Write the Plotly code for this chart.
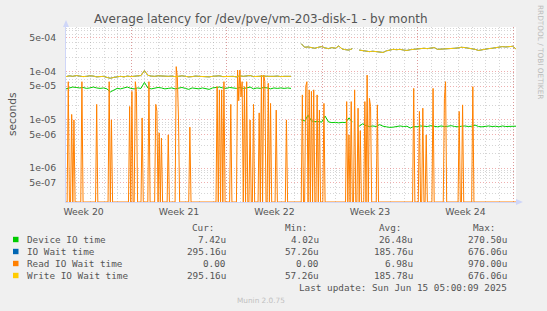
import numpy as np
import pandas as pd
import plotly.graph_objects as go

# ---------------- data ----------------
START = "2025-05-13 05:00"
END = "2025-06-15 05:00"

# 6-hour samples (133 points), None = no data
device_io_time = [
    4.4e-5, 4.6e-5, 4.8e-5, 4.7e-5, 4.6e-5, 4.7e-5, 4.5e-5, 4.6e-5, 4.8e-5, 4.6e-5,
    4.5e-5, 4.6e-5, 4.4e-5, 3.8e-5, 4.2e-5, 4.5e-5, 4.4e-5, 4.6e-5, 4.8e-5, 4.5e-5,
    4.4e-5, 4.6e-5, 4.5e-5, 6.0e-5, 4.6e-5, 4.4e-5, 4.5e-5, 4.7e-5, 4.6e-5, 4.4e-5,
    4.5e-5, 4.6e-5, 4.4e-5, 4.5e-5, 4.7e-5, 4.5e-5, 4.3e-5, 4.6e-5, 4.5e-5, 4.4e-5,
    4.6e-5, 4.5e-5, 4.3e-5, 4.6e-5, 4.7e-5, 4.8e-5, 4.6e-5, 4.5e-5, 4.7e-5, 4.6e-5,
    4.5e-5, 4.7e-5, 4.5e-5, 4.6e-5, 4.8e-5, 4.4e-5, 4.6e-5, 4.5e-5, 4.7e-5, 4.6e-5,
    4.4e-5, 4.6e-5, 4.5e-5, 4.6e-5, 4.5e-5, 4.6e-5, 4.5e-5, None, None,
    1.0e-5, 9.5e-6, 1.25e-5, 9.6e-6, 9.2e-6, 9.3e-6, 9.0e-6, 1.2e-5, 9.1e-6, 8.8e-6,
    8.9e-6, 8.7e-6, 8.9e-6, 8.8e-6, 1.1e-5, 9.0e-6, None,
    7.4e-6, 8.3e-6, 7.6e-6, 7.3e-6, 7.5e-6, 7.3e-6, 8.0e-6, 7.4e-6, 7.2e-6, 7.0e-6,
    7.1e-6, 7.3e-6, 7.5e-6, 7.3e-6, 7.4e-6, 6.8e-6, 7.3e-6, 7.2e-6, 7.5e-6, 7.4e-6,
    7.3e-6, 7.6e-6, 7.4e-6, 7.2e-6, 7.5e-6, 7.3e-6, 7.4e-6, 7.6e-6, 7.3e-6, 7.2e-6,
    7.4e-6, 7.5e-6, 7.3e-6, 7.4e-6, 7.8e-6, 7.3e-6, 7.2e-6, 7.4e-6, 7.5e-6, 7.3e-6,
    7.4e-6, 7.2e-6, 7.5e-6, 7.3e-6, 7.4e-6, 7.3e-6, 7.42e-6,
]

write_io_wait = [
    7.9e-5, 8.2e-5, 8.0e-5, 8.3e-5, 8.1e-5, 7.9e-5, 8.0e-5, 8.2e-5, 8.1e-5, 7.8e-5,
    7.9e-5, 8.0e-5, 7.6e-5, 7.3e-5, 7.6e-5, 7.9e-5, 8.0e-5, 7.8e-5, 8.1e-5, 7.9e-5,
    8.0e-5, 8.2e-5, 8.3e-5, 1.05e-4, 8.4e-5, 8.1e-5, 8.0e-5, 8.2e-5, 8.1e-5, 7.9e-5,
    8.0e-5, 8.1e-5, 7.9e-5, 8.0e-5, 8.2e-5, 8.0e-5, 7.8e-5, 7.9e-5, 8.1e-5, 8.0e-5,
    7.9e-5, 8.0e-5, 7.8e-5, 8.0e-5, 8.1e-5, 8.2e-5, 7.9e-5, 8.0e-5, 8.1e-5, 8.0e-5,
    7.8e-5, 8.2e-5, 8.0e-5, 8.1e-5, 8.3e-5, 7.9e-5, 8.0e-5, 7.9e-5, 8.1e-5, 8.0e-5,
    7.9e-5, 8.0e-5, 8.1e-5, 7.9e-5, 8.0e-5, 8.1e-5, 8.0e-5, None, None,
    3.8e-4, 3.2e-4, 3.25e-4, 3.15e-4, 3.05e-4, 3.2e-4, 3.3e-4, 3.1e-4, 3.0e-4, 3.15e-4,
    3.05e-4, 3.4e-4, 2.95e-4, 2.85e-4, 2.8e-4, 3.0e-4, None,
    2.8e-4, 2.75e-4, 2.7e-4, 2.6e-4, 2.65e-4, 2.6e-4, 2.55e-4, 2.5e-4, 2.7e-4, 2.8e-4,
    2.9e-4, 2.85e-4, 2.9e-4, 2.8e-4, 2.75e-4, 2.85e-4, 2.9e-4, 2.95e-4, 3.0e-4, 3.05e-4,
    3.0e-4, 3.1e-4, 3.15e-4, 2.9e-4, 2.95e-4, 3.0e-4, 3.05e-4, 3.0e-4, 3.05e-4, 3.1e-4,
    3.2e-4, 3.15e-4, 3.1e-4, 3.05e-4, 2.9e-4, 2.75e-4, 2.85e-4, 2.95e-4, 3.0e-4, 3.05e-4,
    3.15e-4, 3.2e-4, 3.3e-4, 3.25e-4, 3.3e-4, 3.35e-4, 2.95e-4,
]

# IO wait is visually identical to the write wait (drawn underneath it)
io_wait_time = list(write_io_wait)

# Read IO wait (2-hour samples): zero everywhere except these spikes
read_spike_times = [
    "2025-05-13 09:00", "2025-05-13 15:00", "2025-05-13 19:00", "2025-05-14 09:00",
    "2025-05-15 11:00", "2025-05-16 09:00", "2025-05-16 13:00", "2025-05-17 21:00",
    "2025-05-18 01:00", "2025-05-18 07:00", "2025-05-18 09:00", "2025-05-18 19:00",
    "2025-05-19 07:00", "2025-05-19 19:00", "2025-05-19 21:00", "2025-05-20 01:00",
    "2025-05-20 05:00", "2025-05-20 17:00", "2025-05-21 07:00", "2025-05-21 09:00",
    "2025-05-21 11:00", "2025-05-22 07:00", "2025-05-24 07:00", "2025-05-24 11:00",
    "2025-05-24 15:00", "2025-05-24 19:00", "2025-05-25 07:00", "2025-05-25 19:00",
    "2025-05-25 21:00", "2025-05-25 23:00", "2025-05-26 01:00", "2025-05-26 03:00",
    "2025-05-26 07:00", "2025-05-26 11:00", "2025-05-26 17:00", "2025-05-26 23:00",
    "2025-05-27 09:00", "2025-05-27 13:00", "2025-05-27 17:00", "2025-05-27 19:00",
    "2025-05-28 01:00", "2025-05-28 05:00", "2025-05-28 15:00", "2025-05-29 09:00",
    "2025-05-30 13:00", "2025-05-30 19:00", "2025-05-30 21:00", "2025-05-31 01:00",
    "2025-05-31 05:00", "2025-05-31 09:00", "2025-05-31 15:00", "2025-05-31 19:00",
    "2025-06-01 03:00", "2025-06-02 19:00", "2025-06-02 23:00", "2025-06-03 03:00",
    "2025-06-03 09:00", "2025-06-03 15:00", "2025-06-03 19:00", "2025-06-04 03:00",
    "2025-06-04 07:00", "2025-06-04 11:00", "2025-06-04 13:00", "2025-06-05 01:00",
    "2025-06-07 17:00", "2025-06-08 03:00", "2025-06-08 09:00", "2025-06-08 15:00",
    "2025-06-09 03:00", "2025-06-09 23:00", "2025-06-10 01:00", "2025-06-11 01:00",
    "2025-06-11 07:00", "2025-06-12 01:00",
]
read_spike_values = [
    6.2e-5, 1.3e-5, 1.0e-5, 6.2e-5,
    2.1e-5, 6.2e-5, 1.0e-5, 1.9e-5,
    3.9e-5, 6.2e-5, 3.9e-5, 1.1e-5,
    6.2e-5, 2.1e-5, 1.5e-5, 5.4e-6,
    4.2e-6, 4.9e-6, 1.27e-4, 7.4e-5,
    1.0e-5, 7.1e-6, 4.9e-5, 4.2e-5,
    4.2e-5, 6.2e-5, 2.1e-5, 1.08e-4,
    2.5e-5, 1.08e-4, 3.0e-5, 6.2e-5,
    4.9e-5, 6.2e-5, 1.0e-5, 2.1e-5,
    1.4e-5, 8.5e-5, 8.5e-5, 6.2e-5,
    5.75e-5, 2.2e-5, 1.6e-5, 1.0e-5,
    3.3e-5, 5.0e-5, 6.2e-5, 4.2e-5,
    3.9e-5, 4.2e-5, 3.3e-5, 1.6e-5,
    2.2e-5, 2.4e-5, 4.9e-6, 2.4e-5,
    4.2e-5, 1.75e-5, 6.0e-6, 2.4e-5,
    8.5e-5, 2.8e-5, 1.9e-5, 2.05e-5,
    4.5e-5, 1.5e-5, 1.75e-5, 4.9e-6,
    4.5e-5, 2.8e-5, 6.2e-5, 1.5e-5,
    2.05e-5, 4.9e-5,
]

week_label_times = ["2025-05-14 12:00", "2025-05-21 12:00", "2025-05-28 12:00",
                    "2025-06-04 12:00", "2025-06-11 12:00"]
week_labels = ["Week 20", "Week 21", "Week 22", "Week 23", "Week 24"]
week_boundaries = ["2025-05-18", "2025-05-25", "2025-06-01", "2025-06-08", "2025-06-15"]

y_tick_values = [5e-7, 1e-6, 5e-6, 1e-5, 5e-5, 1e-4, 5e-4]
y_tick_labels = ["5e-07", "1e-06", "5e-06", "1e-05", "5e-05", "1e-04", "5e-04"]

series_names = ["Device IO time", "IO Wait time", "Read IO Wait time", "Write IO Wait time"]
series_colors = ["#00CC00", "#0066B3", "#FF8000", "#FFCC00"]
cur_values = ["7.42u", "295.16u", "0.00", "295.16u"]
min_values = ["4.02u", "57.26u", "0.00", "57.26u"]
avg_values = ["26.48u", "185.76u", "6.98u", "185.78u"]
max_values = ["270.50u", "676.06u", "970.00u", "676.06u"]

TITLE = "Average latency for /dev/pve/vm-203-disk-1 - by month"
LAST_UPDATE = "Last update: Sun Jun 15 05:00:09 2025"

# ---------------- geometry ----------------
W, H = 547, 311
L, R, T, B = 66, 31, 27, 109
PW, PH = W - L - R, H - T - B


def px(x):
    return (x - L) / PW


def py(y):
    return 1 - (y - T) / PH


Y_LOG_RANGE = [-6.70, -3.075]
floor_val = 10 ** Y_LOG_RANGE[0]

t6 = pd.date_range(START, END, freq="6h")
t2 = pd.date_range(START, END, freq="2h")
read = pd.Series(0.0, index=t2)
read.loc[pd.to_datetime(read_spike_times)] = read_spike_values
read_plot = read.where(read > 0, floor_val)

FONT = "DejaVu Sans"
MONO = "DejaVu Sans Mono"
TXT = "#555555"

fig = go.Figure()
series_x = [t6, t6, t2, t6]
series_y = [device_io_time, io_wait_time, read_plot.values, write_io_wait]
for name, col, xs, ys in zip(series_names, series_colors, series_x, series_y):
    fig.add_trace(go.Scatter(x=xs, y=ys, mode="lines", name=name,
                             line=dict(color=col, width=1), connectgaps=False,
                             hoverinfo="skip"))
# carrier for the week-label axis
fig.add_trace(go.Scatter(x=[t6[0]], y=[1e-5], xaxis="x2", mode="markers",
                         marker=dict(opacity=0), hoverinfo="skip", showlegend=False))

minor_y = [m * 10.0 ** e for e in range(-7, -2) for m in (2, 3, 4, 6, 7, 8, 9)]
day_lines = pd.date_range("2025-05-14", "2025-06-15", freq="D")

GRID_MAJOR = "rgba(225,110,110,0.55)"
GRID_MINOR = "rgba(150,150,150,0.4)"
DASH = "1px,2px"

fig.update_layout(
    width=W, height=H,
    margin=dict(l=L, r=R, t=T, b=B, pad=0),
    paper_bgcolor="#F0F0F0", plot_bgcolor="#FFFFFF",
    showlegend=False,
    font=dict(family=FONT, color=TXT),
    xaxis=dict(type="date", range=[t6[0], t6[-1]], tickmode="array",
               tickvals=week_boundaries, showticklabels=False, ticks="",
               showgrid=True, gridcolor=GRID_MAJOR, griddash=DASH, gridwidth=1,
               minor=dict(tickmode="array", tickvals=list(day_lines), showgrid=True,
                          gridcolor=GRID_MINOR, griddash=DASH, ticks=""),
               showline=True, linecolor="#CFD6F8", zeroline=False),
    xaxis2=dict(type="date", overlaying="x", matches="x", anchor="y", side="bottom",
                tickmode="array", tickvals=week_label_times, ticktext=week_labels,
                showgrid=False, ticks="", showline=False, zeroline=False,
                ticklabelstandoff=3,
                tickfont=dict(family=FONT, size=9.33, color=TXT)),
    yaxis=dict(type="log", range=Y_LOG_RANGE, tickmode="array",
               tickvals=y_tick_values, ticktext=y_tick_labels, ticks="",
               showgrid=True, gridcolor=GRID_MAJOR, griddash=DASH, gridwidth=1,
               minor=dict(tickmode="array", tickvals=minor_y, showgrid=True,
                          gridcolor=GRID_MINOR, griddash=DASH, ticks=""),
               showline=True, linecolor="#CFD6F8", zeroline=False,
               ticklabelstandoff=7,
               tickfont=dict(family=FONT, size=9.33, color=TXT)),
)

annotations = []
shapes = []

# title
annotations.append(dict(text=TITLE, x=px(261), y=py(19), xref="paper", yref="paper",
                        xanchor="center", yanchor="middle", showarrow=False,
                        font=dict(family=FONT, size=12, color=TXT)))
# unit label
annotations.append(dict(text="seconds", x=px(12), y=py(114), xref="paper", yref="paper",
                        xanchor="center", yanchor="middle", showarrow=False, textangle=-90,
                        font=dict(family=FONT, size=10.67, color=TXT)))
# watermark at right
annotations.append(dict(text="RRDTOOL / TOBI OETIKER", x=px(540), y=py(52), xref="paper",
                        yref="paper", xanchor="center", yanchor="middle", showarrow=False,
                        textangle=90, font=dict(family=FONT, size=7.33, color="#BBBBBB")))

# legend header
for lbl, xr in zip(["Cur:", "Min:", "Avg:", "Max:"], [216, 309, 403, 497]):
    annotations.append(dict(text=lbl, x=px(xr), y=py(227.7), xref="paper", yref="paper",
                            xanchor="right", yanchor="middle", showarrow=False,
                            font=dict(family=MONO, size=9.33, color=TXT)))
rows_y = [239.5, 251.5, 263.5, 275.5]
for i, name in enumerate(series_names):
    yy = rows_y[i]
    shapes.append(dict(type="rect", xref="paper", yref="paper",
                       x0=px(13), x1=px(18.5), y0=py(yy - 2.7), y1=py(yy + 2.7),
                       fillcolor=series_colors[i], line=dict(width=0)))
    annotations.append(dict(text=name, x=px(25), y=py(yy), xref="paper", yref="paper",
                            xanchor="left", yanchor="middle", showarrow=False,
                            font=dict(family=MONO, size=9.33, color=TXT)))
    for vals, xr in zip([cur_values, min_values, avg_values, max_values], [228, 321, 415, 509]):
        annotations.append(dict(text=vals[i], x=px(xr), y=py(yy), xref="paper", yref="paper",
                                xanchor="right", yanchor="middle", showarrow=False,
                                font=dict(family=MONO, size=9.33, color=TXT)))
annotations.append(dict(text=LAST_UPDATE, x=px(509), y=py(287.5), xref="paper", yref="paper",
                        xanchor="right", yanchor="middle", showarrow=False,
                        font=dict(family=MONO, size=9.33, color=TXT)))
annotations.append(dict(text="Munin 2.0.75", x=px(261), y=py(300.5), xref="paper", yref="paper",
                        xanchor="center", yanchor="middle", showarrow=False,
                        font=dict(family=FONT, size=7.33, color="#C0C0C0")))

# axis arrows
ax_col = "#CFD6F8"
shapes.append(dict(type="path", xref="paper", yref="paper",
                   path=f"M {px(63)} {py(27)} L {px(69)} {py(27)} L {px(66)} {py(20)} Z",
                   fillcolor=ax_col, line=dict(width=0)))
shapes.append(dict(type="path", xref="paper", yref="paper",
                   path=f"M {px(516)} {py(199)} L {px(516)} {py(205)} L {px(523)} {py(202)} Z",
                   fillcolor=ax_col, line=dict(width=0)))

fig.update_layout(annotations=annotations, shapes=shapes)
fig.write_html("out.html")
